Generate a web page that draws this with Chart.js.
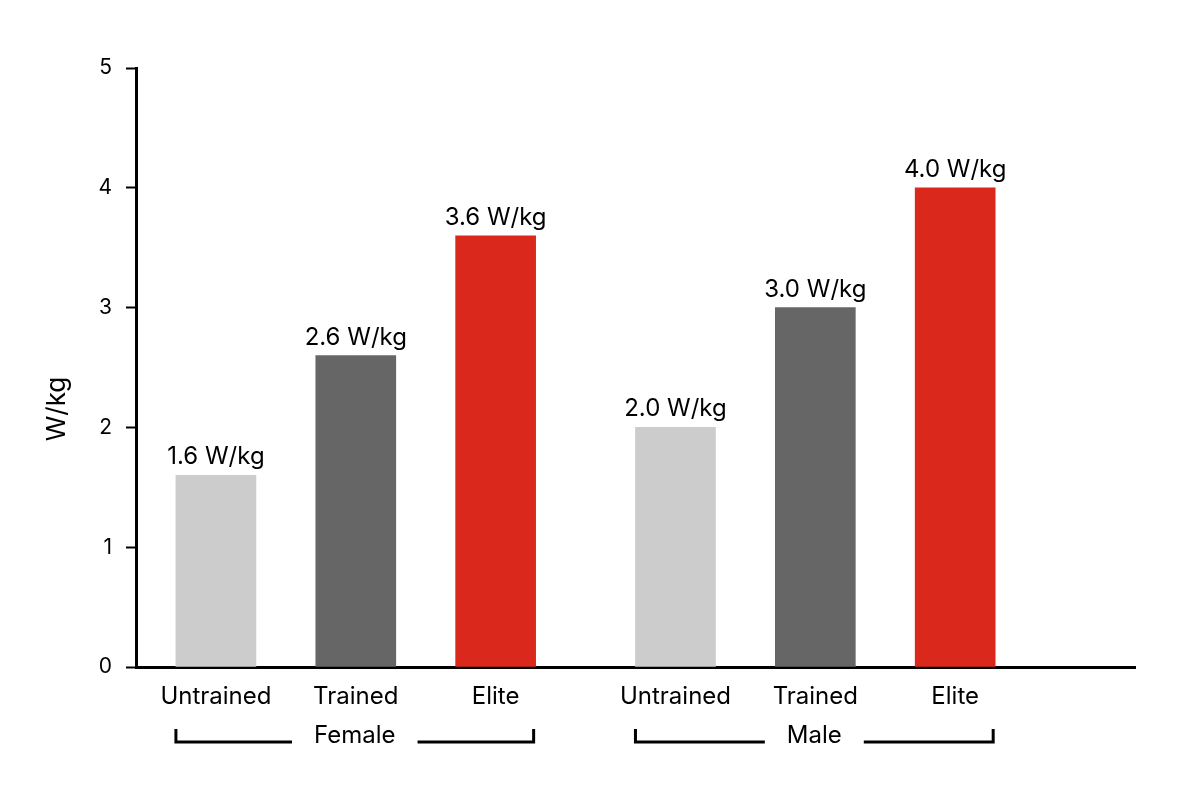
<!DOCTYPE html>
<html>
<head>
<meta charset="utf-8">
<script src="https://cdn.jsdelivr.net/npm/chart.js@4/dist/chart.umd.min.js"></script>
<style>
  html, body { margin: 0; padding: 0; background: #fff; }
  #wrap { width: 1200px; height: 800px; }
</style>
</head>
<body>
<div id="wrap"><canvas id="chart" width="1200" height="800"></canvas></div>
<script>
// data
const levels = ['Untrained', 'Trained', 'Elite', 'Untrained', 'Trained', 'Elite'];
const groups = ['Female', 'Male'];
const positions = [4, 11, 18, 27, 34, 41];   // slots on the x axis (0..50)
const values = [1.6, 2.6, 3.6, 2.0, 3.0, 4.0];
const barColors = ['#cccccc', '#666666', '#da291c', '#cccccc', '#666666', '#da291c'];
const yTicks = [0, 1, 2, 3, 4, 5];

const FONT = 'Inter, Lato, sans-serif';

// labels above bars + group brackets + y title
const annotate = {
    id: 'annotate',
    afterDatasetsDraw(chart) {
        const ctx = chart.ctx;
        const meta = chart.getDatasetMeta(0);
        ctx.save();
        ctx.fillStyle = '#000';
        ctx.font = '24px ' + FONT;
        ctx.textAlign = 'center';
        ctx.textBaseline = 'alphabetic';
        meta.data.forEach((bar, i) => {
            ctx.fillText(values[i].toFixed(1) + ' W/kg', bar.x, bar.y - 11);
        });

        // group brackets
        ctx.textBaseline = 'middle';
        ctx.strokeStyle = '#000';
        ctx.lineWidth = 3;
        groups.forEach((g, gi) => {
            const first = meta.data[gi * 3];
            const last = meta.data[gi * 3 + 2];
            const left = first.x - first.width / 2;
            const right = last.x + last.width / 2 - 2;
            const mid = (left + right) / 2;
            const half = ctx.measureText(g).width / 2 + 22;
            const y = 742;
            ctx.beginPath();
            ctx.moveTo(left, 729);
            ctx.lineTo(left, y);
            ctx.lineTo(mid - half, y);
            ctx.moveTo(mid + half, y);
            ctx.lineTo(right, y);
            ctx.lineTo(right, 729);
            ctx.stroke();
            ctx.fillText(g, mid, 736);
        });

        // y axis title
        ctx.font = '26px ' + FONT;
        ctx.translate(57, 409);
        ctx.rotate(-Math.PI / 2);
        ctx.fillText('W/kg', 0, 0);
        ctx.restore();
    }
};

new Chart(document.getElementById('chart'), {
    type: 'bar',
    data: {
        datasets: [{
            data: positions.map((p, i) => ({ x: p, y: values[i] })),
            backgroundColor: barColors,
            barThickness: 80,
            borderWidth: 0
        }]
    },
    options: {
        responsive: false,
        animation: false,
        layout: { padding: { top: 68, right: 65, left: 0, bottom: 0 } },
        plugins: { legend: { display: false }, tooltip: { enabled: false } },
        scales: {
            x: {
                type: 'linear',
                min: 0,
                max: 50,
                offset: false,
                afterBuildTicks: s => { s.ticks = positions.map(v => ({ value: v })); },
                afterFit: s => { s.height = 133; },
                ticks: {
                    autoSkip: false,
                    maxRotation: 0,
                    padding: 7,
                    color: '#000',
                    font: { size: 24, family: FONT },
                    callback: (v) => levels[positions.indexOf(v)]
                },
                grid: { display: false },
                border: { display: true, color: '#000', width: 3 }
            },
            y: {
                min: 0,
                max: 5,
                afterBuildTicks: s => { s.ticks = yTicks.map(v => ({ value: v })); },
                afterFit: s => { s.width = 136; },
                ticks: {
                    padding: 14,
                    color: '#000',
                    font: { size: 21, family: FONT }
                },
                grid: {
                    drawOnChartArea: false,
                    drawTicks: true,
                    tickLength: 10,
                    tickWidth: 2,
                    tickColor: '#000'
                },
                border: { display: true, color: '#000', width: 3 }
            }
        }
    },
    plugins: [annotate]
});
</script>
</body>
</html>
